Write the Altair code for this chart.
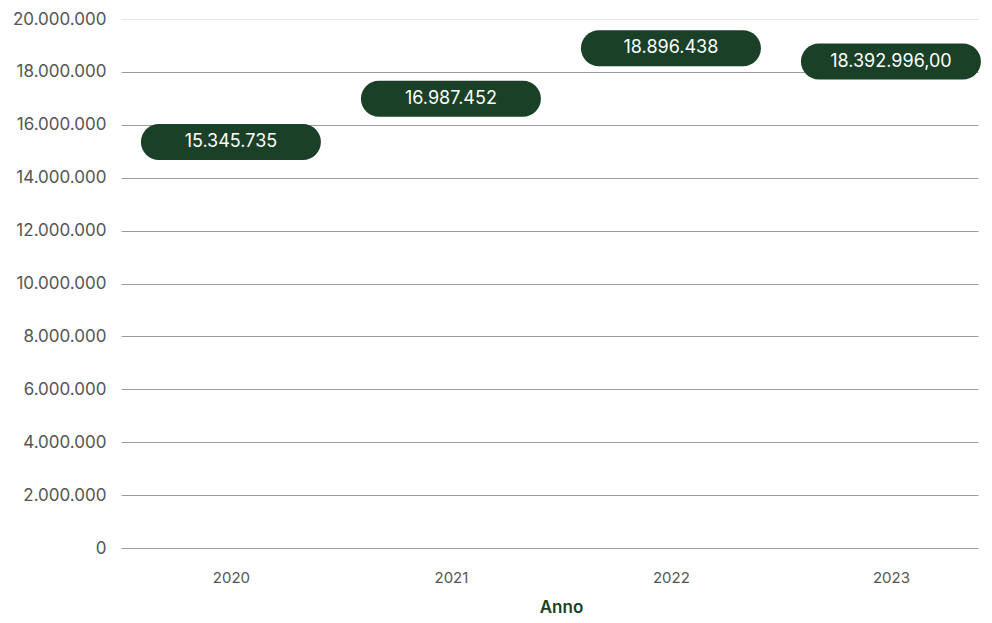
import altair as alt
import pandas as pd

years = ["2020", "2021", "2022", "2023"]
values = [15345735, 16987452, 18896438, 18392996]
labels = ["15.345.735", "16.987.452", "18.896.438", "18.392.996,00"]

df = pd.DataFrame({"Anno": years, "Valore": values, "Etichetta": labels})

GREEN = "#1a4027"

x = alt.X(
    "Anno:N",
    title="Anno",
    scale=alt.Scale(type="point", padding=0.4477, align=0.558),
    axis=alt.Axis(
        labelAngle=0,
        labelColor="#555555",
        labelFontSize=15,
        labelPadding=22,
        ticks=False,
        domain=False,
        titleColor=GREEN,
        titleFontSize=17,
        titleFontWeight=600,
        titlePadding=14,
        titleX=440,
    ),
)
y = alt.Y(
    "Valore:Q",
    title=None,
    scale=alt.Scale(domain=[0, 20000000], nice=False),
    axis=alt.Axis(
        values=list(range(0, 20000001, 2000000)),
        labelExpr="replace(format(datum.value, ','), regexp(',', 'g'), '.')",
        labelColor="#555555",
        labelFontSize=17,
        labelPadding=15,
        ticks=False,
        domain=False,
        grid=True,
        gridColor=alt.condition("datum.value == 20000000", alt.value("#e6e6e6"), alt.value("#9c9c9c")),
        gridWidth=1,
    ),
)

base = alt.Chart(df).encode(x=x, y=y)

pills = base.mark_tick(
    orient="horizontal", size=180, thickness=36, cornerRadius=18, color=GREEN, opacity=1
)
texts = base.mark_text(color="white", fontSize=18, font="Inter").encode(text="Etichetta:N")

chart = (
    alt.layer(pills, texts)
    .properties(
        width=857,
        height=529,
        autosize=alt.AutoSizeParams(type="none"),
        padding={"left": 113, "top": 11, "right": 6, "bottom": 72},
    )
    .configure_view(stroke=None)
    .configure_axis(labelFont="Inter", titleFont="Inter")
)

chart.save("out.html", embed_options={"renderer": "svg", "actions": False})
